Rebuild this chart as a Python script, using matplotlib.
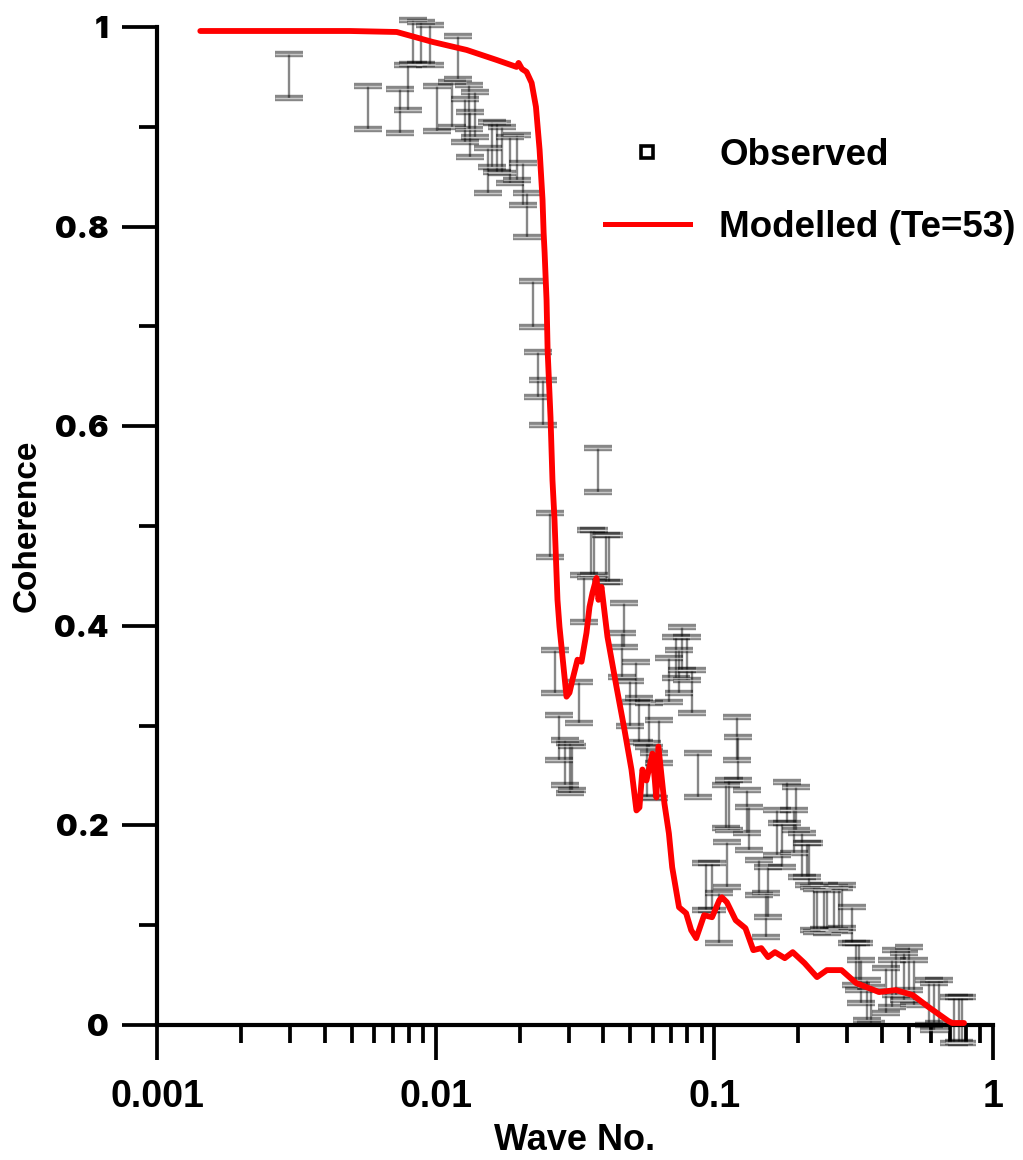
import matplotlib
matplotlib.use("Agg")
import matplotlib.pyplot as plt
import numpy as np
from matplotlib.lines import Line2D
from matplotlib.ticker import FixedLocator, NullFormatter, LogLocator

# ---------------- data ----------------
# Observed coherence: wavenumber and lower/upper error-bar limits
obs_x = [0.00297, 0.00570, 0.00743, 0.00794, 0.00827, 0.00884, 0.00952, 0.01008,
         0.01141, 0.01199, 0.01270, 0.01324, 0.01380, 0.01536, 0.01587, 0.01654,
         0.01725, 0.01842, 0.01952, 0.02050, 0.02119, 0.02227, 0.02320, 0.02418,
         0.03839, 0.02562, 0.03623, 0.03715, 0.04204, 0.04101, 0.03420, 0.02670,
         0.03282, 0.02782, 0.02900, 0.03022, 0.03097, 0.04758, 0.04681, 0.05254,
         0.05386, 0.05848, 0.06354, 0.06095, 0.05754, 0.07680, 0.07309, 0.07493,
         0.06900, 0.08340, 0.08003, 0.08765, 0.1209, 0.1215, 0.1104, 0.1132,
         0.1313, 0.1334, 0.1827, 0.1960, 0.1682, 0.1753, 0.1935, 0.2067,
         0.2179, 0.1110, 0.0936, 0.0984, 0.1042, 0.1450, 0.1559, 0.1536,
         0.2154, 0.2283, 0.2336, 0.2479, 0.2534, 0.2692, 0.2805, 0.2860,
         0.3122, 0.3228, 0.3309, 0.3364, 0.3535, 0.3653, 0.4135, 0.4345,
         0.4480, 0.4797, 0.5000, 0.5209, 0.5897, 0.6140, 0.6404, 0.7246,
         0.7550, 0.7750, 0.0132, 0.0500]
obs_lo = [0.929, 0.898, 0.894, 0.917, 0.963, 0.963, 0.962, 0.896,
          0.900, 0.948, 0.885, 0.870, 0.890, 0.834, 0.860, 0.855,
          0.854, 0.844, 0.847, 0.822, 0.790, 0.699, 0.629, 0.601,
          0.534, 0.469, 0.449, 0.451, 0.444, 0.444, 0.404, 0.333,
          0.303, 0.266, 0.240, 0.232, 0.235, 0.379, 0.349, 0.324,
          0.284, 0.279, 0.263, 0.227, 0.228, 0.356, 0.348, 0.333,
          0.324, 0.313, 0.346, 0.228, 0.266, 0.245, 0.197, 0.195,
          0.192, 0.175, 0.202, 0.195, 0.170, 0.158, 0.172, 0.148,
          0.140, 0.138, 0.115, 0.115, 0.082, 0.130, 0.108, 0.088,
          0.148, 0.095, 0.093, 0.096, 0.092, 0.095, 0.094, 0.097,
          0.082, 0.040, 0.035, 0.022, 0.005, 0.002, 0.012, 0.018,
          0.030, 0.025, 0.035, 0.020, 0.000, -0.005, 0.002, -0.018,
          -0.017, -0.018, 0.898, 0.300]
obs_hi = [0.973, 0.941, 0.938, 0.962, 1.007, 1.005, 1.002, 0.941,
          0.945, 0.991, 0.928, 0.915, 0.935, 0.879, 0.905, 0.904,
          0.900, 0.890, 0.892, 0.864, 0.834, 0.745, 0.674, 0.646,
          0.578, 0.513, 0.496, 0.496, 0.491, 0.491, 0.451, 0.376,
          0.344, 0.311, 0.286, 0.283, 0.280, 0.423, 0.393, 0.364,
          0.328, 0.323, 0.306, 0.273, 0.283, 0.399, 0.389, 0.376,
          0.368, 0.356, 0.389, 0.273, 0.309, 0.289, 0.240, 0.245,
          0.235, 0.218, 0.243, 0.238, 0.215, 0.202, 0.215, 0.192,
          0.182, 0.183, 0.162, 0.162, 0.132, 0.165, 0.158, 0.132,
          0.182, 0.138, 0.136, 0.140, 0.135, 0.138, 0.137, 0.140,
          0.118, 0.082, 0.082, 0.065, 0.045, 0.038, 0.057, 0.065,
          0.075, 0.072, 0.078, 0.065, 0.045, 0.042, 0.045, 0.028,
          0.028, 0.028, 0.942, 0.345]

# Modelled coherence (Te = 53)
model_x = [0.00143, 0.00492, 0.00725, 0.00976, 0.01292, 0.01654, 0.01952, 0.01984,
           0.0204, 0.02119, 0.0221, 0.0229, 0.0236, 0.02418, 0.0244, 0.0246,
           0.0250, 0.02522, 0.02583, 0.02625, 0.02670, 0.02736, 0.02782, 0.02948,
           0.03022, 0.03097, 0.03228, 0.03337, 0.03477, 0.03565, 0.03653, 0.03777,
           0.03839, 0.03936, 0.04135, 0.04454, 0.04758, 0.05042, 0.05254, 0.05386,
           0.05520, 0.05707, 0.05995, 0.06195, 0.0630, 0.0662, 0.0687, 0.0706,
           0.0747, 0.0792, 0.0826, 0.0861, 0.0919, 0.0981, 0.1042, 0.1064,
           0.1109, 0.1193, 0.1293, 0.1380, 0.1474, 0.1559, 0.1650, 0.1790,
           0.1911, 0.2107, 0.2336, 0.2534, 0.2860, 0.3228, 0.3898, 0.4480,
           0.5152, 0.5872, 0.6914, 0.7130, 0.7870]
model_y = [0.996, 0.996, 0.995, 0.985, 0.977, 0.967, 0.960, 0.964,
           0.958, 0.955, 0.944, 0.920, 0.877, 0.827, 0.794, 0.774,
           0.726, 0.676, 0.609, 0.546, 0.506, 0.426, 0.399, 0.329,
           0.333, 0.346, 0.366, 0.364, 0.393, 0.419, 0.433, 0.448,
           0.426, 0.439, 0.389, 0.339, 0.296, 0.256, 0.215, 0.218,
           0.256, 0.245, 0.272, 0.228, 0.279, 0.222, 0.192, 0.158,
           0.118, 0.112, 0.095, 0.087, 0.110, 0.108, 0.125, 0.128,
           0.123, 0.105, 0.097, 0.075, 0.077, 0.068, 0.073, 0.067,
           0.073, 0.062, 0.048, 0.055, 0.055, 0.042, 0.033, 0.035,
           0.030, 0.018, 0.004, 0.002, 0.002]

xticks = [0.001, 0.01, 0.1, 1]
xtick_labels = ["0.001", "0.01", "0.1", "1"]
yticks = [0, 0.2, 0.4, 0.6, 0.8, 1.0]
ytick_labels = ["0", "0.2", "0.4", "0.6", "0.8", "1"]
yminor = [0.1, 0.3, 0.5, 0.7, 0.9]

# ---------------- figure ----------------
W, H = 1023, 1160
fig = plt.figure(figsize=(W / 100, H / 100), dpi=100)
ax = fig.add_axes([157 / W, 1 - 1025 / H, (993 - 157) / W, (1025 - 27) / H])

sans = ["Liberation Sans", "DejaVu Sans"]

ox = np.array(obs_x)
lo = np.array(obs_lo)
hi = np.array(obs_hi)
mid = (lo + hi) / 2
half = (hi - lo) / 2

eb = ax.errorbar(ox, mid, yerr=half, fmt="none", ecolor=(0, 0, 0, 0.47),
                 elinewidth=1.7, capsize=10, capthick=4.6, zorder=2)
for art in eb.lines[1] + eb.lines[2]:
    art.set_clip_on(False)
eb2 = ax.errorbar(ox, mid, yerr=half, fmt="none", ecolor=(1, 1, 1, 0.55),
                  elinewidth=0, capsize=10, capthick=1.0, zorder=2.1)
for art in eb2.lines[1] + eb2.lines[2]:
    art.set_clip_on(False)

ax.plot(model_x, model_y, color="#ff0000", lw=4.2, zorder=3,
        solid_joinstyle="round", solid_capstyle="round", clip_on=False)

ax.set_xscale("log")
ax.set_xlim(0.001, 1)
ax.set_ylim(0, 1)

for s in ["top", "right"]:
    ax.spines[s].set_visible(False)
for s in ["left", "bottom"]:
    ax.spines[s].set_linewidth(3.0)

ax.set_xticks(xticks)
ax.set_xticklabels(xtick_labels)
ax.xaxis.set_minor_locator(LogLocator(base=10, subs=np.arange(2, 10)))
ax.xaxis.set_minor_formatter(NullFormatter())
ax.set_yticks(yticks)
ax.set_yticklabels(ytick_labels)
ax.yaxis.set_minor_locator(FixedLocator(yminor))

ax.tick_params(which="major", direction="out", length=25, width=2.7, color="black")
ax.tick_params(which="minor", direction="out", length=13, width=2.7, color="black")
ax.tick_params(axis="x", which="major", pad=14)
ax.tick_params(axis="y", which="major", pad=10)

for lab in ax.get_xticklabels():
    lab.set_fontfamily(sans)
    lab.set_fontweight("bold")
    lab.set_fontsize(27)
for lab in ax.get_yticklabels():
    lab.set_fontfamily(["Inter", "DejaVu Sans"])
    lab.set_fontweight(900)
    lab.set_fontsize(22)

ax.set_xlabel("Wave No.", fontfamily=sans, fontweight="bold", fontsize=26, labelpad=6)
ax.set_ylabel("Coherence", fontfamily=sans, fontweight="bold", fontsize=24, labelpad=8)

# legend
h_obs = Line2D([], [], linestyle="none", marker="s", markersize=8,
               markerfacecolor="white", markeredgecolor="black", markeredgewidth=2.6)
h_mod = Line2D([], [], color="#ff0000", lw=3.6)
leg = ax.legend([h_obs, h_mod], ["Observed", "Modelled (Te=53)"],
                loc="upper left", bbox_to_anchor=(605 / W, 1 - 138 / H),
                bbox_transform=fig.transFigure, frameon=False,
                prop={"family": sans, "weight": "bold", "size": 26.5},
                handlelength=2.3, handletextpad=0.8, labelspacing=1.0,
                borderpad=0, borderaxespad=0, numpoints=1)

fig.savefig("out.png", dpi=100, facecolor="white")
